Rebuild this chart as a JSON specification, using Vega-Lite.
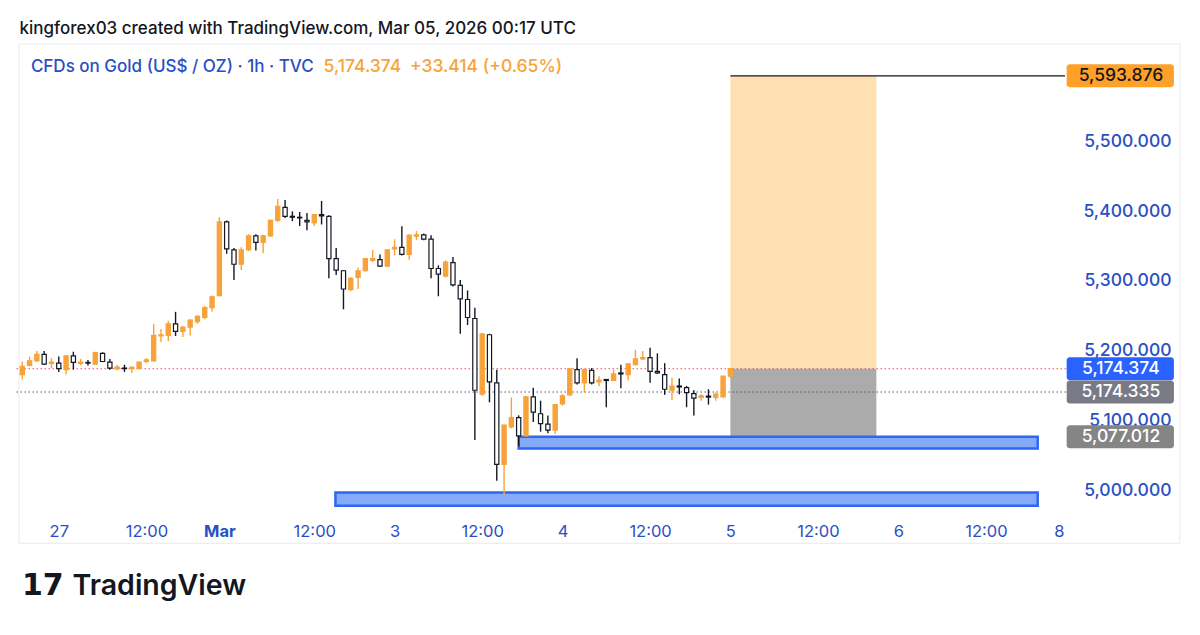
{
  "$schema": "https://vega.github.io/schema/vega-lite/v6.json",
  "width": 1056,
  "height": 476,
  "autosize": {"type": "none"},
  "padding": {"left": 14, "top": 39, "right": 130, "bottom": 120},
  "background": "white",
  "config": {"view": {"stroke": null}, "font": "Inter"},
  "resolve": {"axis": {"x": "independent", "y": "independent"}},
  "datasets": {
    "candles": [
      {"t":1,"o":5166.0,"h":5184.7,"l":5159.0,"c":5177.7},
      {"t":2,"o":5179.1,"h":5191.7,"l":5177.7,"c":5185.6},
      {"t":3,"o":5185.6,"h":5199.7,"l":5184.7,"c":5195.0},
      {"t":4,"o":5195.0,"h":5199.7,"l":5180.0,"c":5181.0},
      {"t":5,"o":5181.9,"h":5189.4,"l":5175.3,"c":5183.8},
      {"t":6,"o":5182.4,"h":5191.7,"l":5169.7,"c":5174.4},
      {"t":7,"o":5173.0,"h":5194.0,"l":5166.0,"c":5192.6},
      {"t":8,"o":5192.6,"h":5198.7,"l":5173.0,"c":5183.3},
      {"t":9,"o":5181.9,"h":5188.4,"l":5179.1,"c":5183.8},
      {"t":10,"o":5183.3,"h":5187.0,"l":5179.1,"c":5182.4},
      {"t":11,"o":5181.0,"h":5198.7,"l":5180.0,"c":5197.3},
      {"t":12,"o":5196.4,"h":5197.8,"l":5183.8,"c":5184.7},
      {"t":13,"o":5183.8,"h":5188.4,"l":5173.0,"c":5175.3},
      {"t":14,"o":5173.9,"h":5180.0,"l":5172.1,"c":5176.8},
      {"t":15,"o":5175.3,"h":5180.0,"l":5169.7,"c":5174.4},
      {"t":16,"o":5174.4,"h":5177.7,"l":5168.3,"c":5176.3},
      {"t":17,"o":5175.3,"h":5184.7,"l":5173.0,"c":5183.8},
      {"t":18,"o":5184.7,"h":5189.4,"l":5182.4,"c":5187.0},
      {"t":19,"o":5185.6,"h":5238.5,"l":5184.7,"c":5222.1},
      {"t":20,"o":5221.2,"h":5231.4,"l":5212.7,"c":5223.0},
      {"t":21,"o":5222.1,"h":5243.1,"l":5213.7,"c":5238.5},
      {"t":22,"o":5238.5,"h":5255.8,"l":5221.2,"c":5227.7},
      {"t":23,"o":5227.7,"h":5235.2,"l":5219.8,"c":5233.8},
      {"t":24,"o":5233.8,"h":5245.5,"l":5222.1,"c":5244.1},
      {"t":25,"o":5241.7,"h":5251.1,"l":5238.5,"c":5249.2},
      {"t":26,"o":5247.8,"h":5264.2,"l":5245.5,"c":5261.8},
      {"t":27,"o":5261.8,"h":5279.1,"l":5255.8,"c":5277.3},
      {"t":28,"o":5279.1,"h":5391.3,"l":5278.0,"c":5384.8},
      {"t":29,"o":5384.8,"h":5386.7,"l":5339.0,"c":5346.0},
      {"t":30,"o":5344.6,"h":5347.4,"l":5301.6,"c":5324.0},
      {"t":31,"o":5324.0,"h":5348.3,"l":5315.6,"c":5344.6},
      {"t":32,"o":5344.6,"h":5367.0,"l":5342.7,"c":5364.7},
      {"t":33,"o":5364.7,"h":5367.0,"l":5343.6,"c":5355.3},
      {"t":34,"o":5355.3,"h":5366.1,"l":5339.9,"c":5364.7},
      {"t":35,"o":5364.7,"h":5388.1,"l":5363.3,"c":5386.7},
      {"t":36,"o":5386.7,"h":5417.5,"l":5384.8,"c":5406.8},
      {"t":37,"o":5405.4,"h":5416.1,"l":5390.4,"c":5392.7},
      {"t":38,"o":5392.7,"h":5399.7,"l":5385.7,"c":5391.3},
      {"t":39,"o":5391.3,"h":5398.8,"l":5378.7,"c":5390.4},
      {"t":40,"o":5386.7,"h":5397.4,"l":5372.6,"c":5384.8},
      {"t":41,"o":5383.4,"h":5396.0,"l":5378.7,"c":5395.1},
      {"t":42,"o":5395.1,"h":5414.7,"l":5381.0,"c":5393.2},
      {"t":43,"o":5392.7,"h":5394.1,"l":5303.9,"c":5332.0},
      {"t":44,"o":5332.0,"h":5347.4,"l":5308.6,"c":5315.6},
      {"t":45,"o":5314.7,"h":5315.6,"l":5259.5,"c":5288.5},
      {"t":46,"o":5287.5,"h":5305.3,"l":5285.2,"c":5303.9},
      {"t":47,"o":5305.3,"h":5319.3,"l":5288.5,"c":5314.7},
      {"t":48,"o":5314.7,"h":5333.0,"l":5313.3,"c":5332.0},
      {"t":49,"o":5329.6,"h":5344.6,"l":5327.2,"c":5332.0},
      {"t":50,"o":5330.5,"h":5338.0,"l":5320.2,"c":5321.2},
      {"t":51,"o":5321.2,"h":5345.9,"l":5320.2,"c":5344.5},
      {"t":52,"o":5345.9,"h":5359.9,"l":5336.6,"c":5348.3},
      {"t":53,"o":5348.3,"h":5378.6,"l":5336.6,"c":5338.0},
      {"t":54,"o":5338.0,"h":5367.0,"l":5330.5,"c":5365.6},
      {"t":55,"o":5364.2,"h":5371.6,"l":5358.5,"c":5366.0},
      {"t":56,"o":5366.0,"h":5367.9,"l":5358.5,"c":5359.9},
      {"t":57,"o":5359.9,"h":5365.6,"l":5303.9,"c":5317.9},
      {"t":58,"o":5317.9,"h":5322.5,"l":5278.1,"c":5309.9},
      {"t":59,"o":5307.1,"h":5329.6,"l":5305.2,"c":5327.2},
      {"t":60,"o":5326.3,"h":5334.2,"l":5292.1,"c":5294.5},
      {"t":61,"o":5293.6,"h":5301.5,"l":5224.4,"c":5274.4},
      {"t":62,"o":5273.5,"h":5286.5,"l":5237.0,"c":5247.7},
      {"t":63,"o":5246.3,"h":5261.8,"l":5072.4,"c":5143.5},
      {"t":64,"o":5137.9,"h":5225.3,"l":5135.5,"c":5224.4},
      {"t":65,"o":5223.0,"h":5224.4,"l":5126.2,"c":5155.6},
      {"t":66,"o":5154.2,"h":5172.9,"l":5014.0,"c":5037.4},
      {"t":67,"o":5037.4,"h":5094.4,"l":4993.0,"c":5093.5},
      {"t":68,"o":5091.1,"h":5133.2,"l":5088.8,"c":5104.2},
      {"t":69,"o":5104.2,"h":5107.5,"l":5063.1,"c":5078.0},
      {"t":70,"o":5078.0,"h":5135.5,"l":5077.1,"c":5134.1},
      {"t":71,"o":5134.1,"h":5147.2,"l":5098.1,"c":5112.2},
      {"t":72,"o":5109.8,"h":5128.5,"l":5084.1,"c":5095.8},
      {"t":73,"o":5094.9,"h":5107.5,"l":5081.8,"c":5086.5},
      {"t":74,"o":5086.5,"h":5123.9,"l":5080.9,"c":5122.9},
      {"t":75,"o":5123.9,"h":5137.9,"l":5121.5,"c":5135.5},
      {"t":76,"o":5136.9,"h":5175.3,"l":5135.5,"c":5174.3},
      {"t":77,"o":5172.9,"h":5189.3,"l":5151.9,"c":5154.2},
      {"t":78,"o":5154.2,"h":5174.3,"l":5140.2,"c":5172.9},
      {"t":79,"o":5172.0,"h":5175.3,"l":5151.9,"c":5154.2},
      {"t":80,"o":5155.6,"h":5163.6,"l":5149.6,"c":5158.0},
      {"t":81,"o":5158.9,"h":5159.5,"l":5119.2,"c":5157.5},
      {"t":82,"o":5157.5,"h":5172.9,"l":5156.6,"c":5166.9},
      {"t":83,"o":5168.3,"h":5180.0,"l":5146.3,"c":5166.9},
      {"t":84,"o":5165.9,"h":5182.3,"l":5157.5,"c":5181.4},
      {"t":85,"o":5180.0,"h":5201.0,"l":5179.0,"c":5188.4},
      {"t":86,"o":5188.4,"h":5199.6,"l":5187.0,"c":5190.2},
      {"t":87,"o":5190.2,"h":5204.3,"l":5154.2,"c":5170.6},
      {"t":88,"o":5170.6,"h":5196.3,"l":5166.9,"c":5168.3},
      {"t":89,"o":5165.9,"h":5182.3,"l":5136.9,"c":5144.9},
      {"t":90,"o":5143.5,"h":5161.3,"l":5129.5,"c":5149.6},
      {"t":91,"o":5149.6,"h":5160.3,"l":5137.9,"c":5148.2},
      {"t":92,"o":5147.2,"h":5149.6,"l":5119.2,"c":5140.2},
      {"t":93,"o":5138.8,"h":5143.5,"l":5107.5,"c":5132.3},
      {"t":94,"o":5133.2,"h":5137.9,"l":5128.5,"c":5135.5},
      {"t":95,"o":5135.1,"h":5144.9,"l":5122.9,"c":5133.7},
      {"t":96,"o":5133.2,"h":5140.2,"l":5128.5,"c":5137.9},
      {"t":97,"o":5134.1,"h":5164.1,"l":5133.2,"c":5163.6},
      {"t":98,"o":5163.6,"h":5175.3,"l":5161.0,"c":5174.374}
    ],
    "profit": [{"t1": 98, "t2": 118, "lo": 5174.374, "hi": 5593.876}],
    "loss": [{"t1": 98, "t2": 118, "lo": 5077.012, "hi": 5174.374}],
    "zonesBlue": [
      {"t1": 69, "t2": 140.1, "lo": 5060, "hi": 5077},
      {"t1": 43.9, "t2": 140.1, "lo": 4978, "hi": 4997}
    ],
    "lastLine": [{"p": 5174.374}],
    "prevLine": [{"p": 5140.96}],
    "targetLine": [{"t1": 98, "t2": 143.84, "p": 5593.876}],
    "badges": [
      {"p": 5593.876, "label": "5,593.876", "kind": "target"},
      {"p": 5174.374, "label": "5,174.374", "kind": "last"},
      {"p": 5140.96, "label": "5,174.335", "kind": "line"},
      {"p": 5077.012, "label": "5,077.012", "kind": "stop"}
    ],
    "one": [{}]
  },
  "layer": [
    {
      "data": {"name": "one"},
      "mark": {"type": "rect", "fillOpacity": 0, "stroke": "#e8eaef", "strokeWidth": 1},
      "encoding": {
        "x": {"datum": 0.552, "type": "quantitative", "scale": {"domain": [0.552, 143.84], "nice": false, "zero": false}, "axis": null},
        "x2": {"datum": 159.57},
        "y": {"datum": 5639.5, "type": "quantitative", "scale": {"domain": [4971.95, 5639.5], "nice": false, "zero": false}, "axis": null},
        "y2": {"datum": 4924.3}
      }
    },
    {
      "data": {"name": "profit"},
      "mark": {"type": "rect", "fill": "#ffe0b2"},
      "encoding": {
        "x": {"field": "t1", "type": "quantitative", "axis": null},
        "x2": {"field": "t2"},
        "y": {"field": "lo", "type": "quantitative", "axis": null},
        "y2": {"field": "hi"}
      }
    },
    {
      "data": {"name": "loss"},
      "mark": {"type": "rect", "fill": "#ababab"},
      "encoding": {
        "x": {"field": "t1", "type": "quantitative", "axis": null},
        "x2": {"field": "t2"},
        "y": {"field": "lo", "type": "quantitative", "axis": null},
        "y2": {"field": "hi"}
      }
    },
    {
      "data": {"name": "zonesBlue"},
      "mark": {"type": "rect", "fill": "#84aaf8", "stroke": "#2f68f0", "strokeWidth": 2.5},
      "encoding": {
        "x": {"field": "t1", "type": "quantitative", "axis": null},
        "x2": {"field": "t2"},
        "y": {"field": "lo", "type": "quantitative", "axis": null},
        "y2": {"field": "hi"}
      }
    },
    {
      "data": {"name": "lastLine"},
      "mark": {"type": "rule", "color": "#f0505c", "strokeWidth": 1, "strokeDash": [1.5, 2.5]},
      "encoding": {
        "y": {"field": "p", "type": "quantitative", "axis": null}
      }
    },
    {
      "data": {"name": "prevLine"},
      "mark": {"type": "rule", "color": "#555a66", "strokeWidth": 1, "strokeDash": [1.5, 2.5]},
      "encoding": {
        "y": {"field": "p", "type": "quantitative", "axis": null}
      }
    },
    {
      "data": {"name": "targetLine"},
      "mark": {"type": "rule", "color": "#131722", "strokeWidth": 1.2},
      "encoding": {
        "x": {"field": "t1", "type": "quantitative", "axis": null},
        "x2": {"field": "t2"},
        "y": {"field": "p", "type": "quantitative", "axis": null}
      }
    },
    {
      "data": {"name": "candles"},
      "mark": {"type": "rule", "strokeWidth": 1.4},
      "encoding": {
        "x": {
          "field": "t", "type": "quantitative", "title": null,
          "scale": {"domain": [0.552, 143.84], "nice": false, "zero": false},
          "axis": {
            "orient": "bottom",
            "values": [6, 18, 28, 41, 52, 64, 75, 87, 98, 110, 121, 133, 143],
            "labelExpr": "['27','12:00','Mar','12:00','3','12:00','4','12:00','5','12:00','6','12:00','8'][indexof([6,18,28,41,52,64,75,87,98,110,121,133,143], datum.value)]",
            "ticks": false, "tickSize": 0, "domain": false, "grid": false,
            "labelColor": "#2a4fc4", "labelFontSize": 16.5, "labelFont": "Inter",
            "labelPadding": 8, "labelFlush": false, "labelOverlap": false,
            "labelFontWeight": {"condition": {"test": "datum.value == 28", "value": "bold"}, "value": "normal"}
          }
        },
        "y": {
          "field": "l", "type": "quantitative", "title": null,
          "scale": {"domain": [4971.95, 5639.5], "nice": false, "zero": false},
          "axis": {
            "orient": "right",
            "values": [5000, 5100, 5200, 5300, 5400, 5500],
            "format": ",.3f",
            "labelAlign": "right", "labelPadding": 101, "labelBaseline": "middle",
            "ticks": false, "tickSize": 0, "domain": false, "grid": false,
            "labelColor": "#2a4fc4", "labelFontSize": 17.5, "labelFont": "Inter", "labelFontWeight": 500
          }
        },
        "y2": {"field": "h"},
        "color": {"condition": {"test": "datum.c >= datum.o", "value": "#f7a33a"}, "value": "#131722"}
      }
    },
    {
      "data": {"name": "candles"},
      "mark": {"type": "bar", "size": 4.2, "strokeWidth": 1.2},
      "encoding": {
        "x": {"field": "t", "type": "quantitative", "axis": null},
        "y": {"field": "o", "type": "quantitative", "axis": null},
        "y2": {"field": "c"},
        "fill": {"condition": {"test": "datum.c >= datum.o", "value": "#f7a33a"}, "value": "#ffffff"},
        "stroke": {"condition": {"test": "datum.c >= datum.o", "value": "#f7a33a"}, "value": "#131722"}
      }
    },
    {
      "data": {"name": "badges"},
      "mark": {"type": "bar", "size": 23, "cornerRadius": 3},
      "encoding": {
        "x": {"datum": 144.07, "type": "quantitative", "axis": null},
        "x2": {"datum": 158.76},
        "y": {"field": "p", "type": "quantitative", "axis": null},
        "color": {"field": "kind", "type": "nominal", "legend": null,
          "scale": {"domain": ["target", "last", "line", "stop"], "range": ["#ffa028", "#2962ff", "#787b86", "#858585"]}}
      }
    },
    {
      "data": {"name": "badges"},
      "mark": {"type": "text", "align": "center", "baseline": "middle", "fontSize": 17.5, "font": "Inter", "fontWeight": 500},
      "encoding": {
        "x": {"datum": 151.5, "type": "quantitative", "axis": null},
        "y": {"field": "p", "type": "quantitative", "axis": null},
        "text": {"field": "label"},
        "color": {"condition": {"test": "datum.kind === 'target'", "value": "#131722"}, "value": "#ffffff"}
      }
    },
    {
      "data": {"name": "one"},
      "mark": {"type": "text", "align": "left", "baseline": "middle", "fontSize": 17, "font": "Inter", "fontWeight": 500, "color": "#131722"},
      "encoding": {
        "x": {"datum": 0.62, "type": "quantitative", "axis": null},
        "y": {"datum": 5660.6, "type": "quantitative", "axis": null},
        "text": {"value": "kingforex03 created with TradingView.com, Mar 05, 2026 00:17 UTC"}
      }
    },
    {
      "data": {"name": "one"},
      "mark": {"type": "text", "align": "left", "baseline": "middle", "fontSize": 17, "font": "Inter", "fontWeight": 500, "color": "#2a4fc4"},
      "encoding": {
        "x": {"datum": 2.18, "type": "quantitative", "axis": null},
        "y": {"datum": 5605.9, "type": "quantitative", "axis": null},
        "text": {"value": "CFDs on Gold (US$ / OZ) · 1h · TVC"}
      }
    },
    {
      "data": {"name": "one"},
      "mark": {"type": "text", "align": "left", "baseline": "middle", "fontSize": 17.5, "font": "Inter", "fontWeight": 500, "color": "#f7a33a"},
      "encoding": {
        "x": {"datum": 42.28, "type": "quantitative", "axis": null},
        "y": {"datum": 5605.9, "type": "quantitative", "axis": null},
        "text": {"value": "5,174.374\u2002+33.414 (+0.65%)"}
      }
    },
    {
      "data": {"name": "one"},
      "mark": {"type": "text", "align": "left", "baseline": "middle", "fontSize": 30, "font": "DejaVu Sans", "fontWeight": "bold", "color": "#131722"},
      "encoding": {
        "x": {"datum": 0.96, "type": "quantitative", "axis": null},
        "y": {"datum": 4862.6, "type": "quantitative", "axis": null},
        "text": {"value": "17"}
      }
    },
    {
      "data": {"name": "one"},
      "mark": {"type": "text", "align": "left", "baseline": "middle", "fontSize": 28.5, "font": "Inter", "fontWeight": 600, "color": "#131722"},
      "encoding": {
        "x": {"datum": 7.88, "type": "quantitative", "axis": null},
        "y": {"datum": 4862.6, "type": "quantitative", "axis": null},
        "text": {"value": "TradingView"}
      }
    }
  ]
}
